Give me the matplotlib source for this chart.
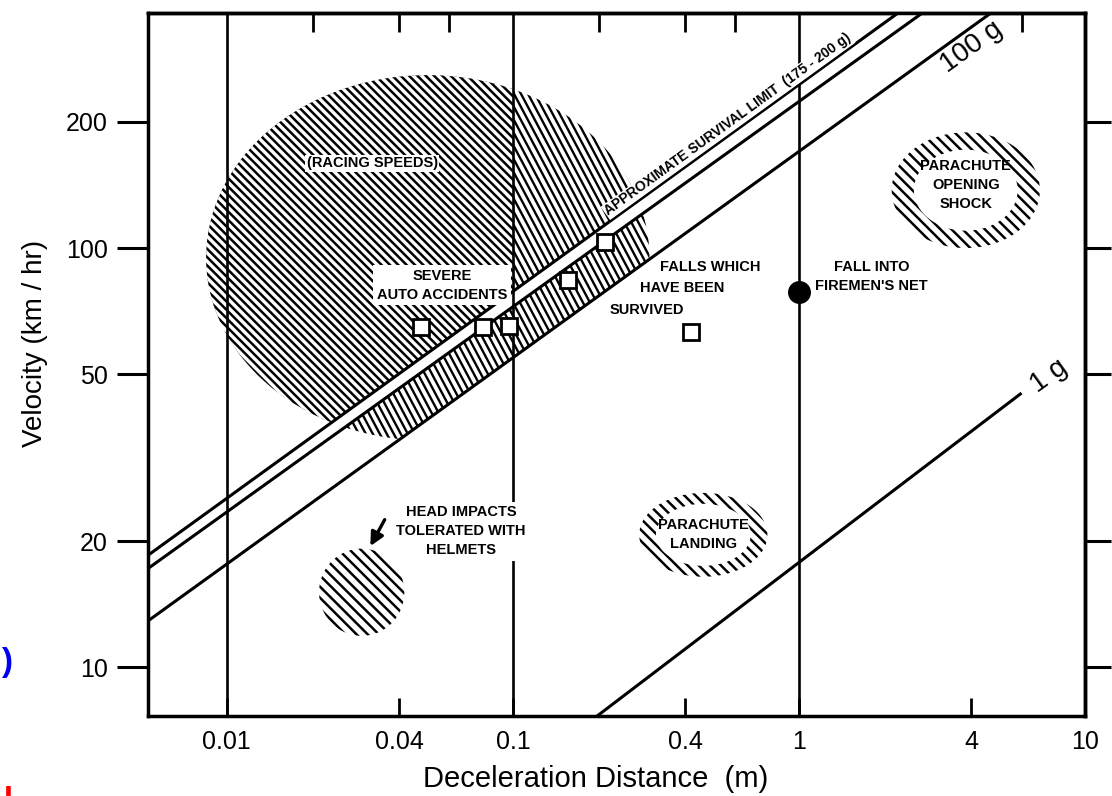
import numpy as np
import matplotlib.pyplot as plt
from matplotlib.patches import Polygon
from matplotlib.collections import LineCollection
from matplotlib.ticker import NullLocator

plt.rcParams['font.family'] = ['Liberation Sans', 'DejaVu Sans']
plt.rcParams['hatch.linewidth'] = 1.8

# g-lines, end points (distance m, velocity km/h)
lim200_d = [0.0053, 2.22]
lim200_v = [18.5, 364]
lim175_d = [0.0053, 2.7]
lim175_v = [17.2, 364]
g100_d = [0.0053, 4.69]
g100_v = [12.9, 364]
g1_d = [0.197, 6.0]
g1_v = [7.65, 45.1]

# survived impacts (open squares) and the firemen's net fall
box_d = [0.0478, 0.0787, 0.0971, 0.156, 0.210, 0.421]
box_v = [64.8, 64.8, 65.1, 83.9, 103.4, 63.0]
net_d = [1.0]
net_v = [78.5]

# shaded regions: centre and half size in decades
region_d = {'racing': 0.0504, 'head': 0.0296, 'landing': 0.463, 'opening': 3.83}
region_v = {'racing': 94.8, 'head': 15.1, 'landing': 20.7, 'opening': 137.5}
region_wdec = {'racing': 0.775, 'head': 0.149, 'landing': 0.224, 'opening': 0.259}
region_hdec = {'racing': 0.436, 'head': 0.104, 'landing': 0.100, 'opening': 0.138}

x_ticks = [0.01, 0.04, 0.1, 0.4, 1, 4, 10]
x_ticklabels = ['0.01', '0.04', '0.1', '0.4', '1', '4', '10']
x_top_ticks = [0.02, 0.04, 0.06, 0.2, 0.4, 0.6, 6]
y_ticks = [10, 20, 50, 100, 200]
y_ticklabels = ['10', '20', '50', '100', '200']
grid_d = [0.01, 0.1, 1]


def ellipse(name, scale=1.0, n=600):
    t = np.linspace(0, 2 * np.pi, n)
    x = 10 ** (np.log10(region_d[name]) + scale * region_wdec[name] * np.cos(t))
    y = 10 ** (np.log10(region_v[name]) + scale * region_hdec[name] * np.sin(t))
    return x, y


def on_line(d, ld, lv):
    k = np.log10(lv[1] / lv[0]) / np.log10(ld[1] / ld[0])
    return lv[0] * (np.asarray(d) / ld[0]) ** k


fig = plt.figure(figsize=(11.12, 7.96), dpi=100)
ax = fig.add_axes([148 / 1112, 1 - 716 / 796, 937 / 1112, 703 / 796])
ax.set_xscale('log')
ax.set_yscale('log')
ax.set_xlim(0.0053, 10)
ax.set_ylim(7.65, 364)

# racing speeds / severe accidents shading
ex, ey = ellipse('racing')
ey_s = np.maximum(ey, on_line(ex, g100_d, g100_v))
sev = Polygon(np.column_stack([ex, ey_s]), closed=True, fc='none', ec='none')
ax.add_patch(sev)
W, H = 937, 703
ang = np.deg2rad(62)
x0s = np.arange(-1, 1.6, 7 / W)
segs = [[(x0, 1), (x0 + H / np.tan(ang) / W, 0)] for x0 in x0s]
lc = LineCollection(segs, transform=ax.transAxes, colors='black', linewidths=1.7, zorder=1)
lc.set_clip_path(sev)
ax.add_collection(lc)

ey_r = np.maximum(ey, on_line(ex, lim175_d, lim175_v))
ex_r = np.minimum(ex, 0.1)
ax.add_patch(Polygon(np.column_stack([ex_r, ey_r]), closed=True, fc='white',
                     ec='black', lw=0, hatch='\\\\\\\\', zorder=1.2))

# other regions
for name in ['head', 'landing', 'opening']:
    x, y = ellipse(name)
    ax.add_patch(Polygon(np.column_stack([x, y]), closed=True, fc='none',
                         ec='black', lw=0, hatch='\\\\\\', zorder=1.2))
for name, s in [('landing', 0.74), ('opening', 0.7)]:
    x, y = ellipse(name, s)
    ax.add_patch(Polygon(np.column_stack([x, y]), closed=True, fc='white',
                         ec='none', zorder=1.3))

# gap between the two survival lines
gap = list(zip(lim200_d, lim200_v)) + list(zip(lim175_d[::-1], lim175_v[::-1]))
ax.add_patch(Polygon(gap, closed=True, fc='white', ec='none', zorder=1.5))

for d in grid_d:
    ax.axvline(d, color='black', lw=1.9, zorder=2)

for ld, lv in [(lim200_d, lim200_v), (lim175_d, lim175_v), (g100_d, g100_v), (g1_d, g1_v)]:
    ax.plot(ld, lv, color='black', lw=2.2, zorder=3, solid_capstyle='butt')

ax.plot(box_d, box_v, 's', ms=11.5, mfc='white', mec='black', mew=2, ls='none', zorder=6)
ax.plot(net_d, net_v, 'o', ms=15.5, color='black', ls='none', zorder=6)

# line angle on screen
p = ax.transData.transform(np.column_stack([lim200_d, lim200_v]))
rot = np.degrees(np.arctan2(p[1, 1] - p[0, 1], p[1, 0] - p[0, 0]))

wbox = dict(boxstyle='square,pad=0.25', fc='white', ec='none')
lab = dict(fontsize=10.5, fontweight='bold', ha='center', va='center', zorder=5,
           linespacing=1.45)
ax.text(0.0322, 159.6, '(RACING SPEEDS)',
        bbox=dict(boxstyle='square,pad=0.1', fc='white', ec='none'), **lab)
ax.text(0.0566, 81.6, 'SEVERE\nAUTO ACCIDENTS', bbox=wbox, **lab)
ax.text(0.490, 90.1, 'FALLS WHICH', **lab)
ax.text(0.391, 80.3, 'HAVE BEEN', **lab)
ax.text(0.295, 71.1, 'SURVIVED', **lab)
ax.text(1.795, 85.8, "FALL INTO\nFIREMEN'S NET", **lab)
ax.text(0.0659, 21.1, 'HEAD IMPACTS\nTOLERATED WITH\nHELMETS', bbox=wbox, **lab)
ax.text(region_d['landing'], region_v['landing'], 'PARACHUTE\nLANDING', **lab)
ax.text(region_d['opening'], 141.4, 'PARACHUTE\nOPENING\nSHOCK', **lab)
ax.annotate('', xy=(0.0314, 19.2), xytext=(0.036, 22.8), zorder=5,
            arrowprops=dict(arrowstyle='-|>', color='black', lw=2.4, mutation_scale=20))

ax.text(0.565, 197, 'APPROXIMATE SURVIVAL LIMIT  (175 - 200 g)', fontsize=10,
        fontweight='bold', rotation=rot, rotation_mode='anchor', ha='center',
        va='center', zorder=5,
        bbox=dict(boxstyle='square,pad=0.08', fc='white', ec='none'))
ax.text(4.02, 301.8, '100 g', fontsize=20, rotation=rot, rotation_mode='anchor',
        ha='center', va='center', zorder=5)
ax.text(7.48, 49.5, '1 g', fontsize=20, rotation=rot, rotation_mode='anchor',
        ha='center', va='center', zorder=5)

# axes and ticks
for s in ax.spines.values():
    s.set_linewidth(2.5)
ax.set_xticks(x_ticks)
ax.set_xticklabels(x_ticklabels)
ax.set_yticks(y_ticks)
ax.set_yticklabels(y_ticklabels)
ax.xaxis.set_minor_locator(NullLocator())
ax.yaxis.set_minor_locator(NullLocator())
ax.tick_params(axis='x', direction='in', length=13, width=2, labelsize=18, pad=10)
ax.tick_params(axis='y', direction='out', length=22, width=2.2, labelsize=18, pad=7)

top = ax.secondary_xaxis('top')
top.set_xticks(x_top_ticks)
top.xaxis.set_minor_locator(NullLocator())
top.tick_params(direction='in', length=14, width=2, labeltop=False)
top.spines['top'].set_linewidth(2.5)

right = ax.secondary_yaxis('right')
right.set_yticks(y_ticks)
right.yaxis.set_minor_locator(NullLocator())
right.tick_params(direction='out', length=19, width=2.2, labelright=False)
right.spines['right'].set_linewidth(2.5)

fig.text(35 / 1112, 1 - 343 / 796, 'Velocity (km / hr)', fontsize=20, rotation=90,
         ha='center', va='center')
fig.text(596 / 1112, 1 - 779 / 796, 'Deceleration Distance  (m)', fontsize=21,
         ha='center', va='center')

# scraps of slide text at the left edge
fig.text(1 / 1112, 1 - 662 / 796, ')', fontsize=24, fontweight='bold', color='#0000ee',
         ha='left', va='center')
fig.text(5 / 1112, 1 - 790 / 796, '\u25ae', fontsize=9, color='red',
         family='DejaVu Sans', ha='left', va='center')

fig.savefig('out.png', dpi=100)
